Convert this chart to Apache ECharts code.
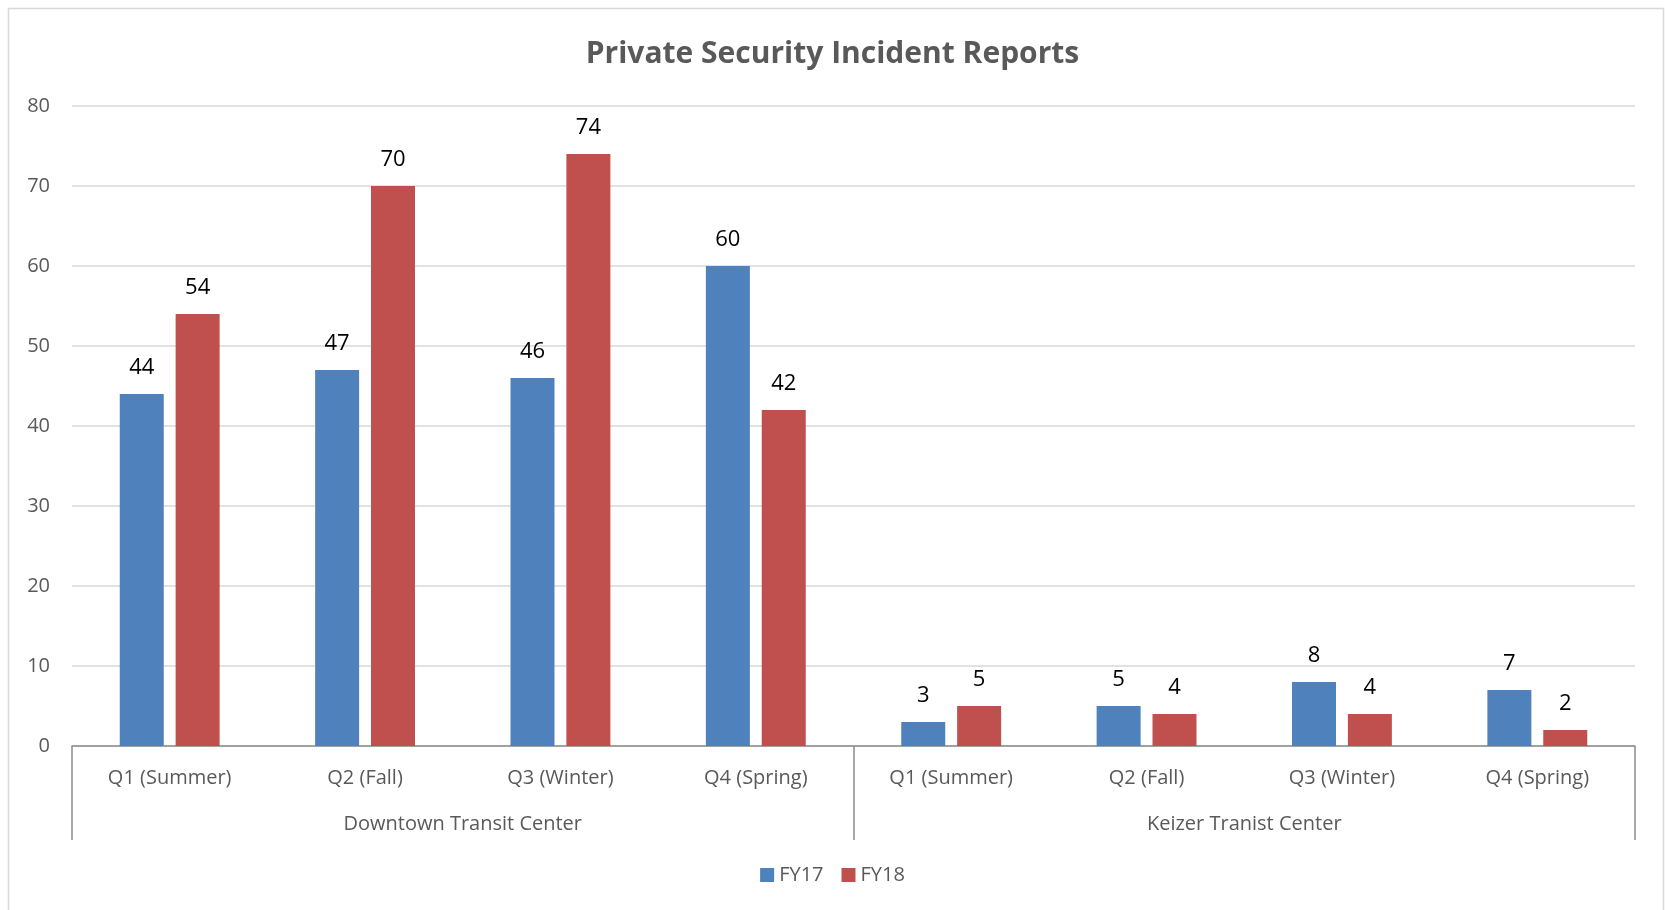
<!DOCTYPE html>
<html>
<head>
<meta charset="utf-8">
<script src="https://cdn.jsdelivr.net/npm/echarts@6/dist/echarts.min.js"></script>
<style>
  html, body { margin: 0; padding: 0; background: #fff; }
  #chart { width: 1665px; height: 910px; }
</style>
</head>
<body>
<div id="chart"></div>
<script>
// 数据
var quarters = ['Q1 (Summer)', 'Q2 (Fall)', 'Q3 (Winter)', 'Q4 (Spring)',
                'Q1 (Summer)', 'Q2 (Fall)', 'Q3 (Winter)', 'Q4 (Spring)'];
var centers = ['Downtown Transit Center', 'Keizer Tranist Center'];
var fy17 = [44, 47, 46, 60, 3, 5, 8, 7];
var fy18 = [54, 70, 74, 42, 5, 4, 4, 2];
var yTicks = [0, 10, 20, 30, 40, 50, 60, 70, 80];

var fontFam = '"Open Sans", "Noto Sans", sans-serif';
var gray = '#595959';

var myChart = echarts.init(document.getElementById('chart'));

var option = {
    animation: false,
    textStyle: { fontFamily: fontFam },
    title: {
        text: 'Private Security Incident Reports',
        left: 'center',
        top: 34,
        textStyle: {
            color: gray,
            fontSize: 30,
            fontWeight: 'bold',
            fontFamily: fontFam
        }
    },
    // 外边框
    graphic: [{
        type: 'rect',
        shape: { x: 8.5, y: 8.5, width: 1655, height: 910 },
        style: { fill: 'none', stroke: '#d9d9d9', lineWidth: 1.5 },
        silent: true
    }],
    legend: {
        data: ['FY17', 'FY18'],
        bottom: 20,
        left: 'center',
        icon: 'rect',
        itemWidth: 14,
        itemHeight: 14,
        itemGap: 18,
        textStyle: { color: gray, fontSize: 20, fontFamily: fontFam }
    },
    grid: {
        left: 72,
        right: 30,
        top: 106,
        bottom: 164
    },
    xAxis: [{
        type: 'category',
        data: quarters,
        axisLine: { show: true, lineStyle: { color: '#8c8c8c', width: 1.5 } },
        axisTick: { show: false },
        axisLabel: {
            color: gray,
            fontSize: 20,
            margin: 22,
            interval: 0,
            fontFamily: fontFam
        }
    }, {
        type: 'category',
        data: centers,
        position: 'bottom',
        axisLine: { show: false },
        axisTick: {
            show: true,
            length: 94,
            lineStyle: { color: '#8c8c8c', width: 1.5 }
        },
        axisLabel: {
            color: gray,
            fontSize: 20,
            margin: 68,
            fontFamily: fontFam
        }
    }],
    yAxis: {
        type: 'value',
        min: yTicks[0],
        max: yTicks[yTicks.length - 1],
        interval: 10,
        axisLine: { show: false },
        axisTick: { show: false },
        axisLabel: { color: gray, fontSize: 20, margin: 22, fontFamily: fontFam },
        splitLine: { lineStyle: { color: '#d9d9d9', width: 1.5 } }
    },
    series: [{
        name: 'FY17',
        type: 'bar',
        data: fy17,
        barWidth: 44,
        barGap: '27%',
        itemStyle: { color: '#4f81bd' },
        label: {
            show: true,
            position: 'top',
            distance: 15,
            color: '#000',
            fontSize: 22,
            fontFamily: fontFam
        }
    }, {
        name: 'FY18',
        type: 'bar',
        data: fy18,
        barWidth: 44,
        itemStyle: { color: '#c0504d' },
        label: {
            show: true,
            position: 'top',
            distance: 15,
            color: '#000',
            fontSize: 22,
            fontFamily: fontFam
        }
    }]
};

myChart.setOption(option);
window.addEventListener('resize', function () {
    myChart.resize();
});
</script>
</body>
</html>
